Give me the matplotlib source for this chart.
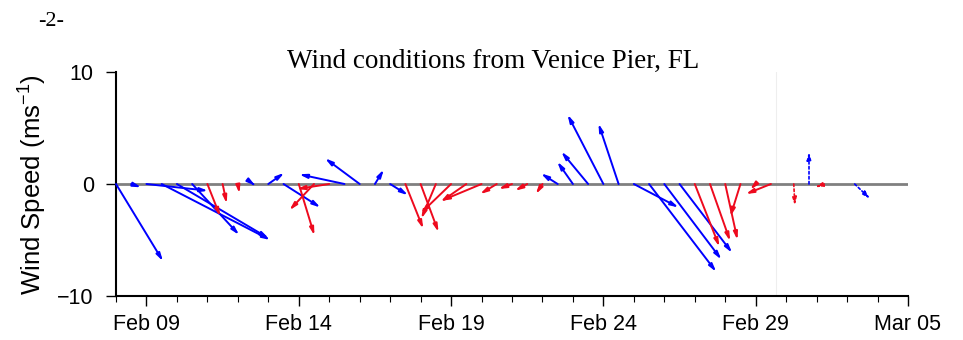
import matplotlib
matplotlib.use('Agg')
import matplotlib.pyplot as plt
import matplotlib.dates as mdates
import numpy as np
import pandas as pd

# 12-hourly observed wind vectors (m/s), starting Feb 08 2008 00:00
obs_start = '2008-02-08 00:00'
u_obs = [4.2, 0.9, 5.5, 9.7, 8.2, 4.2, 1.15, 0.37, 0.15, 0.2,
         1.43, 3.3, 1.4, -2.2, -2.9, -4.05, -3.1, 0.8, 1.6, 1.6,
         1.6, -1.3, -2.7, -2.3, -3.6, -1.5, -1.2, -1.1, -0.6, -1.5,
         -1.4, -2.4, -3.2, -1.8, 4.0, 6.0, 5.1, 4.7, 2.2, 1.8,
         1.1, -0.9, -0.5, -2.25]
v_obs = [-6.9, -0.3, -0.6, -5.0, -4.85, -4.55, -2.9, -1.75, -0.85, -0.15,
         1.0, -2.1, -4.6, -2.35, -0.45, 0.87, 2.3, 1.3, -1.0, -4.0,
         -4.3, -3.1, -2.6, -1.6, -1.5, -0.9, -0.45, -0.6, -0.9, 0.95,
         2.0, 2.9, 6.2, 5.4, -2.1, -7.85, -6.75, -6.15, -5.6, -5.1,
         -5.0, -2.9, -0.5, -0.9]
c_obs = ['b', 'b', 'b', 'b', 'b', 'b', 'r', 'r', 'r', 'b',
         'b', 'b', 'r', 'r', 'r', 'b', 'b', 'b', 'b', 'r',
         'r', 'r', 'r', 'r', 'r', 'r', 'r', 'r', 'r', 'b',
         'b', 'b', 'b', 'b', 'b', 'b', 'b', 'b', 'r', 'r',
         'r', 'r', 'r', 'r']

# forecast vectors (dotted)
fc_times = ['2008-03-01 06:00', '2008-03-01 18:00', '2008-03-02 06:00', '2008-03-03 06:00']
u_fc = [0.1, 0.0, -0.85, 1.4]
v_fc = [-1.95, 2.9, -0.3, -1.35]
c_fc = ['r', 'b', 'r', 'b']

tick_dates = ['2008-02-09', '2008-02-14', '2008-02-19', '2008-02-24', '2008-02-29', '2008-03-05']
x_range = ['2008-02-08', '2008-03-05']
fc_boundary = '2008-02-29 16:00'

colors = {'b': '#0000ff', 'r': '#ee0a1e'}

plt.rcParams['font.family'] = 'Liberation Sans'
plt.rcParams['mathtext.fontset'] = 'custom'
plt.rcParams['mathtext.rm'] = 'Liberation Sans'
plt.rcParams['mathtext.it'] = 'Liberation Sans'

fig = plt.figure(figsize=(9.63, 3.40), dpi=100)
ax = fig.add_axes([116 / 963, 1 - 296 / 340, 792 / 963, 224 / 340])

x0, x1 = mdates.date2num(pd.to_datetime(x_range))
ax.set_xlim(x0, x1)
ax.set_ylim(-10, 10)

# isotropic stick scaling: convert u (m/s) into days on the x axis
w_px = ax.get_position().width * fig.get_figwidth() * fig.dpi
h_px = ax.get_position().height * fig.get_figheight() * fig.dpi
k = (h_px / 20.0) / (w_px / (x1 - x0))

ax.axvline(mdates.date2num(pd.Timestamp(fc_boundary)), color='#eeeeee', lw=0.8, zorder=0)
ax.axhline(0, color='#808080', lw=2.0, zorder=1)

t_obs = mdates.date2num(pd.date_range(obs_start, periods=len(u_obs), freq='12h'))
for t, u, v, c in zip(t_obs, u_obs, v_obs, c_obs):
    ax.annotate('', xy=(t + u * k, v), xytext=(t, 0),
                arrowprops=dict(arrowstyle='-|>,head_length=0.45,head_width=0.12',
                                color=colors[c], lw=1.4, shrinkA=0, shrinkB=0))

t_fc = mdates.date2num(pd.to_datetime(fc_times))
for t, u, v, c in zip(t_fc, u_fc, v_fc, c_fc):
    ax.annotate('', xy=(t + u * k, v), xytext=(t, 0),
                arrowprops=dict(arrowstyle='-|>,head_length=0.45,head_width=0.12',
                                color=colors[c], lw=1.2, ls=(0, (1.5, 1.5)),
                                shrinkA=0, shrinkB=0))

ax.set_xticks(mdates.date2num(pd.to_datetime(tick_dates)))
ax.xaxis.set_major_formatter(mdates.DateFormatter('%b %d'))
ax.xaxis.set_minor_locator(mdates.DayLocator())
ax.set_yticks([-10, 0, 10])

for s in ['top', 'right']:
    ax.spines[s].set_visible(False)
for s in ['left', 'bottom']:
    ax.spines[s].set_linewidth(1.5)

ax.tick_params(axis='both', which='major', direction='out', length=7, width=1.0,
               labelsize=15.5)
ax.tick_params(axis='y', which='major', pad=9)
ax.tick_params(axis='x', which='major', pad=6)
ax.tick_params(axis='x', which='minor', direction='out', length=4, width=0.8)

fig.text(493 / 963, 1 - 61 / 340, 'Wind conditions from Venice Pier, FL',
         family='Liberation Serif', fontsize=19.5, ha='center', va='center')
fig.text(51 / 963, 1 - 21 / 340, '-2-', family='Liberation Serif', fontsize=16,
         ha='center', va='center')
fig.text(33 / 963, 1 - 185 / 340, 'Wind Speed (ms$^{-1}$)', fontsize=18.5,
         rotation=90, ha='center', va='center')

fig.savefig('out.png', dpi=100)
